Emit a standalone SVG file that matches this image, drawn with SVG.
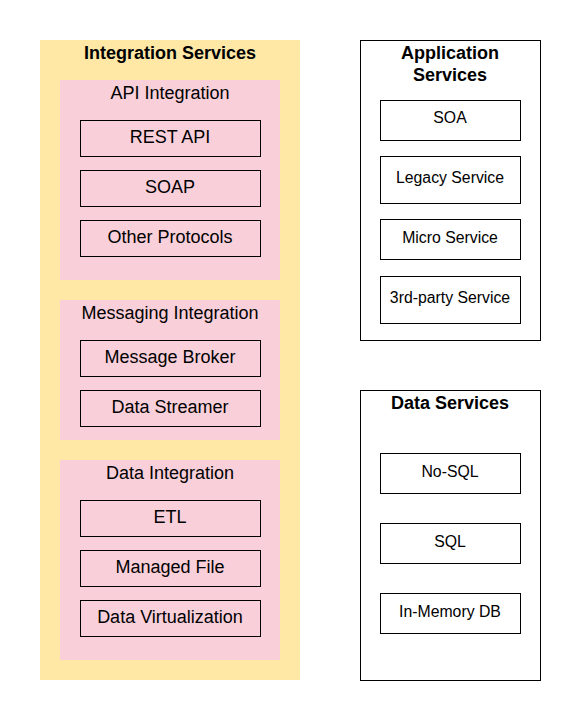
<svg xmlns="http://www.w3.org/2000/svg" width="580" height="720" viewBox="0 0 580 720">
<style>
.t{font-family:"Liberation Sans",Arial,sans-serif;fill:#000;text-anchor:middle}
.b{font-weight:bold;font-size:18px}
.m{font-size:18px}
.s{font-size:15.8px}
.box{fill:none;stroke:#000;stroke-width:1}
.wbox{fill:#fff;stroke:#000;stroke-width:1}
.yel{fill:#ffe8a6}
.pink{fill:#f9d0da}
</style>
<rect width="580" height="720" fill="#fff"/>
<g id="integration-services">
<rect class="yel" x="40" y="40" width="260" height="640"/>
<text class="t b" x="170" y="58.5">Integration Services</text>
</g>
<g id="api-integration">
<rect class="pink" x="60" y="80" width="220" height="200"/>
<text class="t m" x="170" y="98.5">API Integration</text>
</g>
<g id="rest-api"><rect class="box" x="80.5" y="120.5" width="180" height="36"/><text class="t m" x="170" y="142.5">REST API</text></g>
<g id="soap"><rect class="box" x="80.5" y="170.5" width="180" height="36"/><text class="t m" x="170" y="192.5">SOAP</text></g>
<g id="other-protocols"><rect class="box" x="80.5" y="220.5" width="180" height="36"/><text class="t m" x="170" y="242.5">Other Protocols</text></g>
<g id="messaging-integration">
<rect class="pink" x="60" y="300" width="220" height="140"/>
<text class="t m" x="170" y="318.5">Messaging Integration</text>
</g>
<g id="message-broker"><rect class="box" x="80.5" y="340.5" width="180" height="36"/><text class="t m" x="170" y="362.5">Message Broker</text></g>
<g id="data-streamer"><rect class="box" x="80.5" y="390.5" width="180" height="36"/><text class="t m" x="170" y="412.5">Data Streamer</text></g>
<g id="data-integration">
<rect class="pink" x="60" y="460" width="220" height="200"/>
<text class="t m" x="170" y="478.5">Data Integration</text>
</g>
<g id="etl"><rect class="box" x="80.5" y="500.5" width="180" height="36"/><text class="t m" x="170" y="522.5">ETL</text></g>
<g id="managed-file"><rect class="box" x="80.5" y="550.5" width="180" height="36"/><text class="t m" x="170" y="572.5">Managed File</text></g>
<g id="data-virtualization"><rect class="box" x="80.5" y="600.5" width="180" height="36"/><text class="t m" x="170" y="622.5">Data Virtualization</text></g>
<g id="application-services">
<rect class="wbox" x="360.5" y="40.5" width="180" height="300"/>
<text class="t b" x="450" y="58.5">Application</text>
<text class="t b" x="450" y="80.5">Services</text>
</g>
<g id="soa"><rect class="box" x="380.5" y="100.5" width="140" height="40"/><text class="t s" x="450" y="123">SOA</text></g>
<g id="legacy-service"><rect class="box" x="380.5" y="156.5" width="140" height="47"/><text class="t s" x="450" y="183">Legacy Service</text></g>
<g id="micro-service"><rect class="box" x="380.5" y="219.5" width="140" height="40"/><text class="t s" x="450" y="243">Micro Service</text></g>
<g id="third-party-service"><rect class="box" x="380.5" y="276.5" width="140" height="47"/><text class="t s" x="450" y="303">3rd-party Service</text></g>
<g id="data-services">
<rect class="wbox" x="360.5" y="390.5" width="180" height="290"/>
<text class="t b" x="450" y="408.5">Data Services</text>
</g>
<g id="no-sql"><rect class="box" x="380.5" y="453.5" width="140" height="40"/><text class="t s" x="450" y="476.5">No-SQL</text></g>
<g id="sql"><rect class="box" x="380.5" y="523.5" width="140" height="40"/><text class="t s" x="450" y="546.5">SQL</text></g>
<g id="in-memory-db"><rect class="box" x="380.5" y="593.5" width="140" height="40"/><text class="t s" x="450" y="616.5">In-Memory DB</text></g>
<g id="connectors"></g>
</svg>
